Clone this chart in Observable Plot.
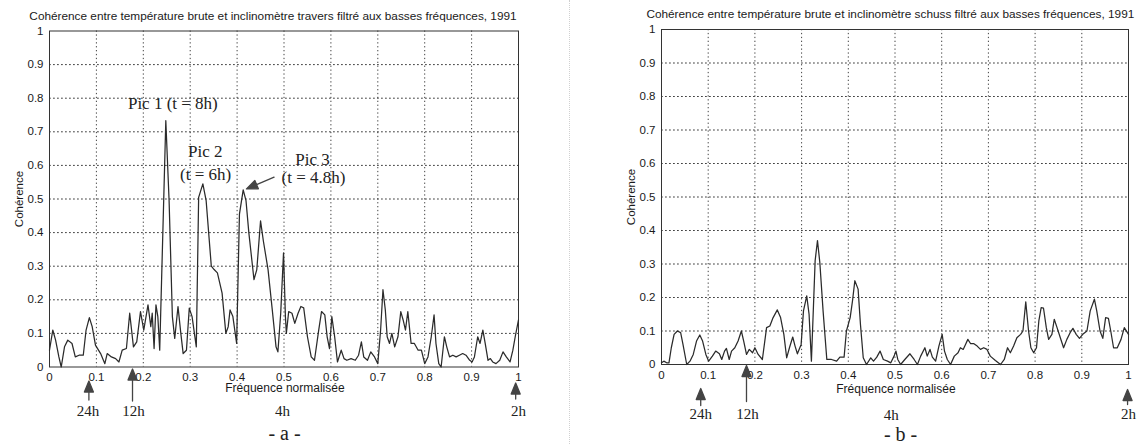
<!DOCTYPE html>
<html><head><meta charset="utf-8">
<script src="https://cdn.jsdelivr.net/npm/d3@7"></script>
<script src="https://cdn.jsdelivr.net/npm/@observablehq/plot@0.6"></script>
<style>
html,body{margin:0;padding:0;background:#fff;}
#wrap{display:flex;width:1141px;height:444px;overflow:hidden;}
#a{width:569px;border-right:1px dotted #d0d0d0;}
#b{width:571px;}
svg{display:block;}
</style></head><body><div id="wrap"><div id="a"></div><div id="b"></div></div>
<script>
// ---- data: panel a (travers) ----
const freqA = [0,0.007,0.013,0.020,0.025,0.032,0.039,0.048,0.055,0.063,
0.072,0.078,0.085,0.091,0.098,0.109,0.118,0.123,0.132,0.141,
0.148,0.155,0.164,0.171,0.179,0.186,0.194,0.201,0.210,0.216,
0.219,0.223,0.227,0.231,0.235,0.248,0.255,0.262,0.267,0.274,
0.280,0.285,0.292,0.298,0.304,0.313,0.318,0.327,0.334,0.345,
0.351,0.358,0.368,0.376,0.381,0.385,0.391,0.399,0.405,0.413,
0.419,0.425,0.436,0.442,0.450,0.456,0.466,0.475,0.483,0.487,
0.493,0.499,0.503,0.505,0.510,0.517,0.523,0.530,0.536,0.542,
0.550,0.558,0.565,0.574,0.580,0.587,0.592,0.597,0.602,0.608,
0.614,0.622,0.628,0.634,0.643,0.652,0.659,0.665,0.670,0.678,
0.685,0.693,0.700,0.706,0.711,0.716,0.720,0.725,0.730,0.736,
0.743,0.749,0.754,0.759,0.764,0.771,0.778,0.786,0.793,0.800,
0.807,0.814,0.820,0.824,0.830,0.835,0.842,0.847,0.853,0.860,
0.867,0.874,0.881,0.888,0.896,0.901,0.906,0.913,0.918,0.924,
0.929,0.935,0.940,0.945,0.952,0.960,0.967,0.974,0.982,0.988,
0.993,1.000];
const cohA = [0.05,0.11,0.08,0.03,0.0,0.06,0.08,0.07,0.03,0.035,
0.035,0.11,0.147,0.12,0.065,0.04,0.01,0.04,0.03,0.025,
0.015,0.05,0.055,0.16,0.06,0.075,0.165,0.11,0.185,0.12,
0.16,0.055,0.185,0.15,0.05,0.733,0.495,0.15,0.085,0.18,
0.10,0.04,0.05,0.175,0.15,0.06,0.505,0.545,0.495,0.30,
0.29,0.28,0.22,0.10,0.12,0.17,0.15,0.07,0.455,0.527,
0.495,0.40,0.26,0.29,0.435,0.375,0.29,0.17,0.06,0.045,
0.16,0.34,0.15,0.10,0.165,0.16,0.13,0.16,0.18,0.176,
0.09,0.03,0.02,0.11,0.165,0.155,0.09,0.055,0.15,0.09,
0.015,0.05,0.025,0.02,0.025,0.02,0.035,0.075,0.03,0.02,
0.045,0.03,0.01,0.11,0.23,0.17,0.09,0.07,0.10,0.06,
0.09,0.165,0.14,0.11,0.165,0.07,0.07,0.05,0.05,0.01,
0.03,0.09,0.155,0.07,0.01,0.0,0.09,0.06,0.03,0.035,
0.03,0.035,0.04,0.035,0.02,0.015,0.03,0.09,0.07,0.11,
0.07,0.02,0.025,0.015,0.01,0.02,0.045,0.03,0.015,0.05,
0.09,0.14];

// ---- data: panel b (schuss) ----
const freqB = [0,0.005,0.011,0.016,0.021,0.027,0.034,0.041,0.046,0.054,
0.061,0.068,0.075,0.082,0.088,0.095,0.101,0.109,0.116,0.124,
0.129,0.135,0.139,0.145,0.150,0.157,0.164,0.171,0.176,0.182,
0.188,0.195,0.200,0.207,0.216,0.225,0.232,0.239,0.248,0.255,
0.262,0.268,0.274,0.281,0.286,0.291,0.299,0.304,0.311,0.316,
0.321,0.329,0.334,0.339,0.346,0.354,0.364,0.375,0.382,0.391,
0.396,0.404,0.409,0.414,0.421,0.426,0.432,0.439,0.448,0.454,
0.461,0.468,0.475,0.484,0.491,0.498,0.502,0.506,0.512,0.521,
0.532,0.541,0.548,0.555,0.564,0.569,0.575,0.580,0.587,0.594,
0.601,0.606,0.612,0.619,0.627,0.635,0.640,0.646,0.651,0.656,
0.662,0.669,0.676,0.683,0.690,0.697,0.704,0.715,0.726,0.734,
0.741,0.747,0.754,0.761,0.769,0.774,0.780,0.786,0.791,0.797,
0.803,0.808,0.813,0.818,0.824,0.829,0.836,0.841,0.847,0.854,
0.861,0.868,0.875,0.881,0.888,0.895,0.902,0.911,0.918,0.927,
0.932,0.939,0.945,0.951,0.957,0.962,0.968,0.976,0.984,0.991,
1.000];
const cohB = [0.005,0.01,0.005,0.005,0.05,0.09,0.10,0.095,0.06,0.0,
0.01,0.03,0.07,0.088,0.07,0.03,0.01,0.025,0.04,0.032,
0.015,0.04,0.048,0.015,0.04,0.05,0.07,0.10,0.07,0.03,
0.045,0.035,0.05,0.03,0.015,0.11,0.115,0.14,0.163,0.14,
0.09,0.02,0.05,0.082,0.055,0.032,0.06,0.16,0.205,0.15,
0.01,0.31,0.37,0.305,0.16,0.015,0.015,0.01,0.022,0.022,
0.10,0.14,0.19,0.25,0.225,0.12,0.02,0.0,0.02,0.01,
0.022,0.04,0.015,0.01,0.005,0.025,0.04,0.015,0.0,0.015,
0.032,0.015,0.0,0.025,0.05,0.025,0.045,0.022,0.01,0.055,
0.09,0.04,0.015,0.0,0.025,0.035,0.05,0.045,0.06,0.075,
0.062,0.062,0.055,0.045,0.05,0.045,0.025,0.012,0.0,0.015,
0.05,0.035,0.055,0.08,0.09,0.10,0.187,0.10,0.05,0.035,
0.05,0.13,0.17,0.168,0.11,0.075,0.09,0.135,0.11,0.08,
0.05,0.075,0.095,0.108,0.09,0.078,0.09,0.10,0.16,0.195,
0.16,0.10,0.078,0.14,0.138,0.10,0.05,0.05,0.075,0.11,
0.09];

// ---- ticks & annotations ----
const tickValues = [0,0.1,0.2,0.3,0.4,0.5,0.6,0.7,0.8,0.9,1];
const gridValues = [0.1,0.2,0.3,0.4,0.5,0.6,0.7,0.8,0.9];
const titleA = "Cohérence entre température brute et inclinomètre travers filtré aux basses fréquences, 1991";
const titleB = "Cohérence entre température brute et inclinomètre schuss filtré aux basses fréquences, 1991";
const hourLabels = ["24h", "12h", "4h", "2h"];
const hourFreqA = [0.082, 0.179, 0.497, 1.0];
const hourFreqB = [0.084, 0.184, 0.492, 1.0];
const arrowFreqA = [0.084, 0.177, 0.994];
const arrowFreqB = [0.084, 0.182, 0.998];
const peakLabels = ["Pic 1 (t = 8h)", "Pic 2", "(t = 6h)", "Pic 3", "(t = 4.8h)"];
const peakLabelX = [0.263, 0.332, 0.333, 0.561, 0.563];
const peakLabelY = [0.784, 0.640, 0.574, 0.618, 0.5625];
const pic3Tip = {f: 0.420, c: 0.530};

const sans = "'Liberation Sans', Arial, Helvetica, sans-serif";
const serif = "'Liberation Serif', 'Times New Roman', serif";
const fmt = d => String(+d.toFixed(1));

const filledArrow = {
  draw(ctx, l) {
    const head = 11, half = 4.5;
    ctx.moveTo(0, 0);
    ctx.lineTo(0, -l + head);
    ctx.moveTo(0, -l);
    ctx.lineTo(-half, -l + head);
    ctx.lineTo(half, -l + head);
    ctx.closePath();
  }
};

function makeChart(cfg) {
  const series = cfg.freq.map((f, i) => ({f, c: cfg.coh[i]}));
  const hours = hourLabels.map((label, i) => ({label, f: cfg.hourFreq[i]}));
  const marks = [
    Plot.ruleX(gridValues, {stroke: "#222", strokeOpacity: 0.85, strokeDasharray: "1.3,2.6", strokeWidth: 1}),
    Plot.ruleY(gridValues, {stroke: "#222", strokeOpacity: 0.85, strokeDasharray: "1.8,2.2", strokeWidth: 1}),
    Plot.frame({stroke: "#333", strokeWidth: 1}),
    Plot.axisX(tickValues, {tickSize: 0, tickPadding: 6, tickFormat: fmt, label: null, fontSize: 11.5, fill: "#1a1a1a"}),
    Plot.axisY(tickValues, {tickSize: 0, tickPadding: 6, tickFormat: fmt, label: null, fontSize: 11.5, fill: "#1a1a1a"}),
    Plot.line(series, {x: "f", y: "c", stroke: "#2b2b2b", strokeWidth: 1.25}),
    Plot.text([cfg.title], {x: cfg.titleX, y: 1, text: d => d, dy: -15, fontSize: 11.8, fill: "#1a1a1a", lineAnchor: "middle"}),
    Plot.text(["Cohérence"], {x: 0, y: 0.5, text: d => d, rotate: -90, dx: -30, fontSize: 11.5, fill: "#1a1a1a", lineAnchor: "middle"}),
    Plot.text(["Fréquence normalisée"], {x: 0.502, y: 0, text: d => d, dy: cfg.xlabelDy, fontSize: 12, fill: "#1a1a1a", lineAnchor: "middle"}),
    Plot.text(hours.filter(d => d.label !== "4h"), {x: "f", y: 0, text: "label", dy: cfg.hourDy, fontFamily: serif, fontSize: 15, fill: "#222", lineAnchor: "middle"}),
    Plot.text(hours.filter(d => d.label === "4h"), {x: "f", y: 0, text: "label", dy: cfg.fourDy, fontFamily: serif, fontSize: 15, fill: "#222", lineAnchor: "middle"}),
    Plot.text([cfg.letter], {x: cfg.letterX, y: 0, text: d => d, dy: cfg.letterDy, fontFamily: serif, fontSize: 20, fill: "#222", lineAnchor: "middle"})
  ];
  cfg.arrowFreq.forEach((f, i) => {
    const st = cfg.arrowStyle[i];
    marks.push(Plot.vector([f], {x: d => d, y: 0, length: st.len, dy: st.dy, anchor: "start", shape: filledArrow, stroke: "#444", fill: "#444", strokeWidth: 1.3}));
  });
  if (cfg.peaks) {
    const pk = peakLabels.map((t, i) => ({t, x: peakLabelX[i], y: peakLabelY[i]}));
    marks.push(Plot.text(pk, {x: "x", y: "y", text: "t", fontFamily: serif, fontSize: 17, fill: "#222", lineAnchor: "middle"}));
    marks.push(Plot.vector([pic3Tip], {x: "f", y: "c", length: 30, rotate: 247, anchor: "end", shape: filledArrow, stroke: "#444", fill: "#444", strokeWidth: 1.3}));
  }
  return Plot.plot({
    width: cfg.width, height: 444,
    marginLeft: cfg.ml, marginRight: cfg.mr, marginTop: cfg.mt, marginBottom: 444 - cfg.bottom,
    style: {fontFamily: sans, fontSize: "11px", color: "#222", background: "#fff", overflow: "visible"},
    x: {domain: [0, 1]},
    y: {domain: [0, 1]},
    marks
  });
}

document.getElementById("a").append(makeChart({
  freq: freqA, coh: cohA, title: titleA, titleX: 0.4765,
  width: 569, ml: 49, mr: 51, mt: 30.5, bottom: 366.5,
  hourFreq: hourFreqA, arrowFreq: arrowFreqA,
  arrowStyle: [{len: 19, dy: 33}, {len: 32, dy: 34}, {len: 16, dy: 32}],
  xlabelDy: 21.5, hourDy: 44, fourDy: 44, letter: "- a -", letterX: 0.501, letterDy: 67, peaks: true
}));
document.getElementById("b").append(makeChart({
  freq: freqB, coh: cohB, title: titleB, titleX: 0.490,
  width: 571, ml: 91, mr: 13, mt: 29, bottom: 364,
  hourFreq: hourFreqB, arrowFreq: arrowFreqB,
  arrowStyle: [{len: 17, dy: 41}, {len: 36, dy: 37}, {len: 15, dy: 40}],
  xlabelDy: 25, hourDy: 50, fourDy: 51, letter: "- b -", letterX: 0.512, letterDy: 70, peaks: false
}));
</script></body></html>
